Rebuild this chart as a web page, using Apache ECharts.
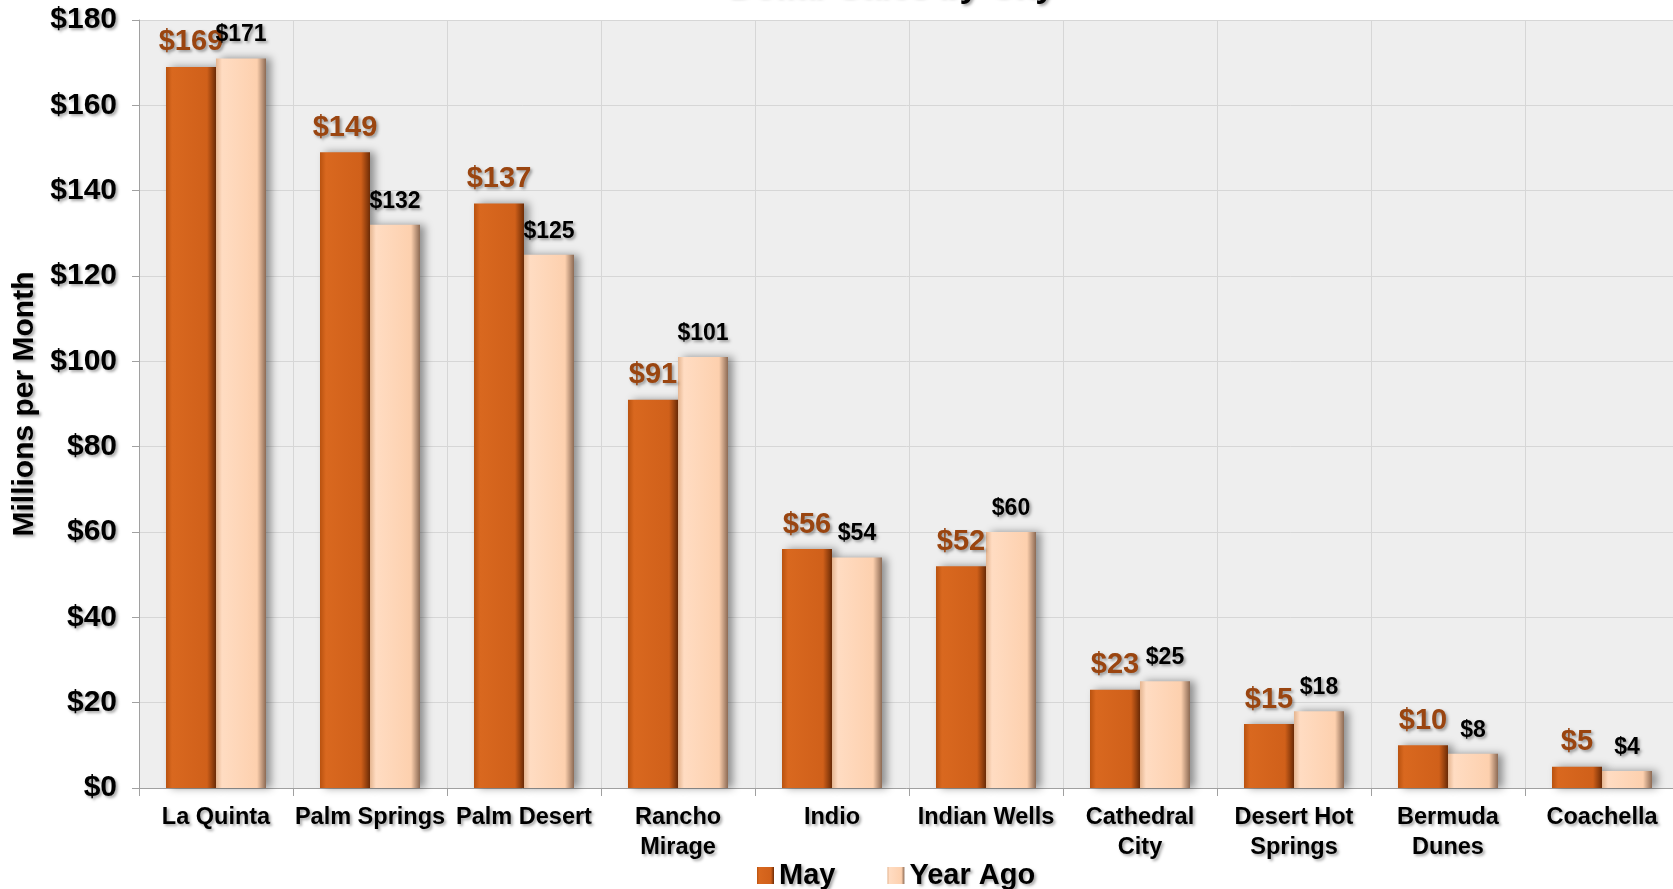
<!DOCTYPE html>
<html>
<head>
<meta charset="utf-8">
<title>Dollar Sales by City</title>
<script src="https://cdn.jsdelivr.net/npm/echarts@6/dist/echarts.min.js"></script>
<style>
  html, body { margin: 0; padding: 0; background: #fff; }
  #chart { width: 1673px; height: 889px; }
</style>
</head>
<body>
<div id="chart"></div>
<script>
// 数据
const cities = ['La Quinta', 'Palm Springs', 'Palm Desert', 'Rancho\nMirage', 'Indio',
  'Indian Wells', 'Cathedral\nCity', 'Desert Hot\nSprings', 'Bermuda\nDunes', 'Coachella']
const mayValues = [169, 149, 137, 91, 56, 52, 23, 15, 10, 5]
const yearAgoValues = [171, 132, 125, 101, 54, 60, 25, 18, 8, 4]
const yTicks = [0, 20, 40, 60, 80, 100, 120, 140, 160, 180]

const FONT = '"Liberation Sans", Arial, sans-serif'
const textShadow = {
  textShadowColor: 'rgba(0,0,0,0.35)',
  textShadowBlur: 3,
  textShadowOffsetX: 2,
  textShadowOffsetY: 2,
}

const myChart = echarts.init(document.getElementById('chart'))

const option = {
  animation: false,
  backgroundColor: '#ffffff',
  title: {
    text: 'Dollar Sales by City',
    left: 723,
    top: -35,
    textStyle: { fontFamily: FONT, fontSize: 35, fontWeight: 'bold', color: '#000', ...textShadow },
  },
  legend: {
    left: 752,
    top: 856,
    itemWidth: 17,
    itemHeight: 17,
    itemGap: 52,
    icon: 'rect',
    textStyle: { fontFamily: FONT, fontSize: 29, fontWeight: 'bold', color: '#000', ...textShadow },
    data: ['May', 'Year Ago'],
  },
  grid: {
    left: 139,
    top: 20,
    right: -6,
    bottom: 101,
    outerBoundsMode: 'none',
    show: true,
    backgroundColor: '#eeeeee',
    borderWidth: 0,
  },
  xAxis: {
    type: 'category',
    data: cities,
    axisLine: { lineStyle: { color: '#a0a0a0', width: 1 } },
    axisTick: { show: true, length: 8, lineStyle: { color: '#a0a0a0' } },
    splitLine: { show: true, lineStyle: { color: '#d6d6d6' } },
    axisLabel: {
      margin: 15,
      interval: 0,
      fontFamily: FONT,
      fontSize: 23.5,
      fontWeight: 'bold',
      color: '#000',
      lineHeight: 30,
      ...textShadow,
    },
  },
  yAxis: {
    type: 'value',
    min: yTicks[0],
    max: yTicks[yTicks.length - 1],
    interval: 20,
    name: 'Millions per Month',
    nameLocation: 'middle',
    nameGap: 95,
    nameTextStyle: { fontFamily: FONT, fontSize: 30, fontWeight: 'bold', color: '#000', ...textShadow },
    axisLine: { show: true, lineStyle: { color: '#a0a0a0', width: 1 } },
    axisTick: { show: true, length: 7, lineStyle: { color: '#a0a0a0' } },
    splitLine: { show: true, lineStyle: { color: '#d6d6d6' } },
    axisLabel: {
      margin: 22,
      fontFamily: FONT,
      fontSize: 30,
      fontWeight: 'bold',
      color: '#000',
      formatter: (v) => '$' + v,
      ...textShadow,
    },
  },
  series: [
    {
      name: 'May',
      type: 'bar',
      data: mayValues,
      barWidth: 50,
      barGap: '0%',
      itemStyle: {
        color: new echarts.graphic.LinearGradient(0, 0, 1, 0, [
          { offset: 0, color: '#b9520f' },
          { offset: 0.12, color: '#d9681f' },
          { offset: 0.82, color: '#d0601a' },
          { offset: 1, color: '#6e2c06' },
        ]),
        shadowColor: 'rgba(0,0,0,0.4)',
        shadowBlur: 8,
        shadowOffsetX: 5,
      },
      label: {
        show: true,
        position: 'top',
        distance: 10,
        formatter: (p) => '$' + p.value,
        fontFamily: FONT,
        fontSize: 29,
        fontWeight: 'bold',
        color: '#9a4510',
        ...textShadow,
      },
    },
    {
      name: 'Year Ago',
      type: 'bar',
      data: yearAgoValues,
      barWidth: 50,
      itemStyle: {
        color: new echarts.graphic.LinearGradient(0, 0, 1, 0, [
          { offset: 0, color: '#e5b590' },
          { offset: 0.12, color: '#ffdcc2' },
          { offset: 0.82, color: '#fdd0ae' },
          { offset: 1, color: '#8c6a54' },
        ]),
        shadowColor: 'rgba(0,0,0,0.4)',
        shadowBlur: 8,
        shadowOffsetX: 5,
      },
      label: {
        show: true,
        position: 'top',
        distance: 12,
        formatter: (p) => '$' + p.value,
        fontFamily: FONT,
        fontSize: 23,
        fontWeight: 'bold',
        color: '#000',
        ...textShadow,
      },
    },
  ],
}

myChart.setOption(option)
</script>
</body>
</html>
